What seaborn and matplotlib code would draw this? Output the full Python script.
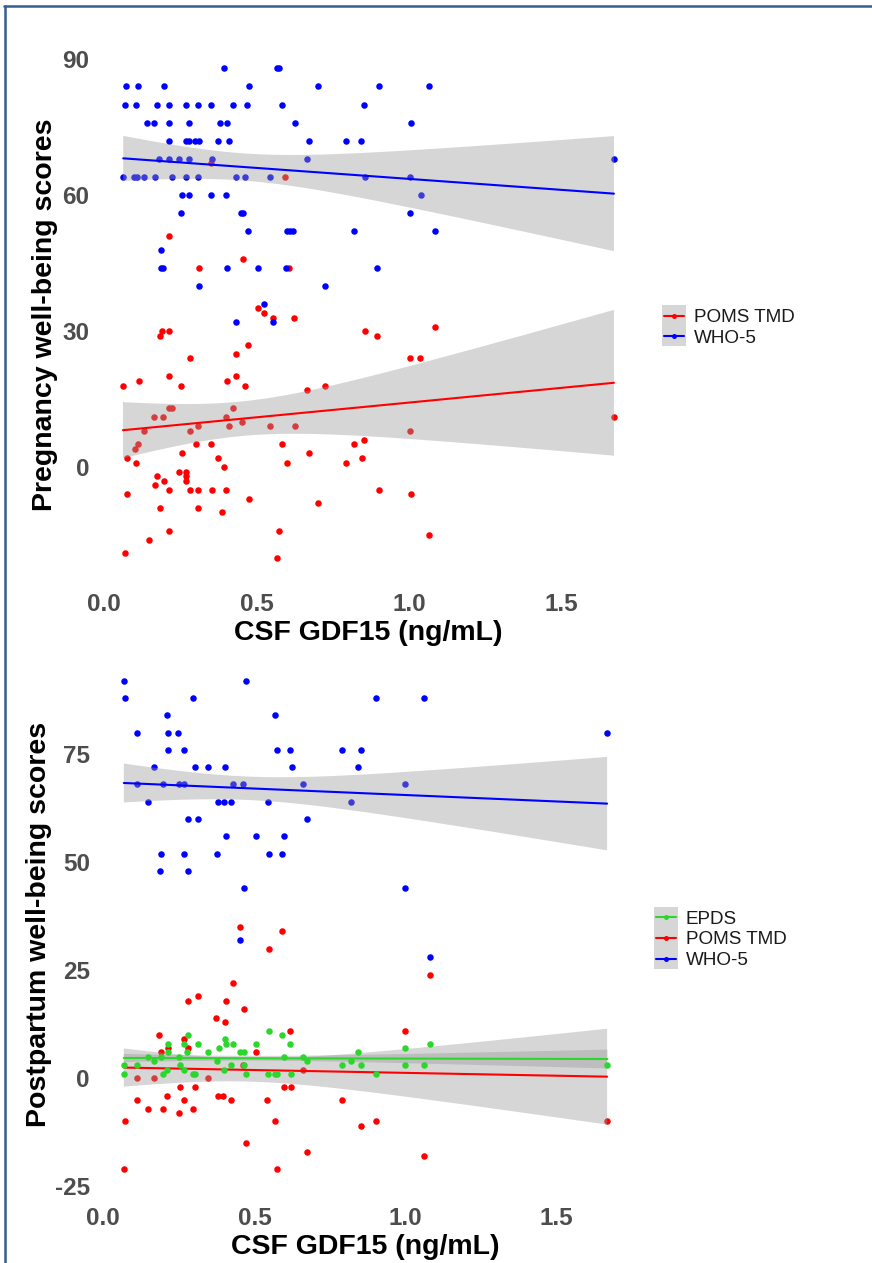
import matplotlib
matplotlib.use("Agg")
import matplotlib.pyplot as plt
import seaborn as sns
import numpy as np
import pandas as pd
from statistics import NormalDist
from matplotlib.legend_handler import HandlerBase
from matplotlib.patches import Rectangle
from matplotlib.lines import Line2D

# ---------------- data ----------------
# Pregnancy: WHO-5 (0-100) against CSF GDF15 (ng/mL)
preg_who5_x = [0.393, 0.567, 0.574,
               0.073, 0.112, 0.197, 0.474, 0.700, 0.901, 1.065,
               0.070, 0.105, 0.175, 0.214, 0.268, 0.308, 0.349, 0.424, 0.469, 0.583, 0.852,
               0.142, 0.164, 0.214, 0.279, 0.381, 0.402, 0.626, 1.007,
               0.214, 0.268, 0.279, 0.297, 0.311, 0.373, 0.408, 0.672, 0.793, 0.843,
               0.181, 0.214, 0.247, 0.279, 0.354, 0.665, 1.671,
               0.063, 0.099, 0.107, 0.131, 0.167, 0.222, 0.269, 0.307, 0.432, 0.463, 0.544, 0.855, 1.002,
               0.254, 0.279, 0.349, 0.400, 1.038,
               0.252, 0.449, 0.455, 1.002,
               0.471, 0.598, 0.609, 0.620, 0.820, 1.084,
               0.187,
               0.187, 0.193, 0.404, 0.505, 0.595, 0.894,
               0.311, 0.724,
               0.525,
               0.431, 0.553]
preg_who5_y = [88] * 3 + [84] * 7 + [80] * 11 + [76] * 8 + [72] * 10 + [68] * 7 + \
              [64] * 13 + [60] * 5 + [56] * 4 + [52] * 6 + [48] * 1 + [44] * 6 + \
              [40] * 2 + [36] * 1 + [32] * 2

# Pregnancy: POMS total mood disturbance
preg_poms_x = [0.214, 0.311, 0.455, 0.605, 0.349, 0.593, 0.503, 0.525, 0.553, 0.621,
               1.084, 0.189, 0.184, 0.214, 0.856, 0.894, 0.281, 0.431, 0.471, 1.003,
               1.037, 0.062, 0.114, 0.214, 0.253, 0.404, 0.431, 0.463, 0.665, 0.724,
               0.214, 0.222, 0.424, 0.163, 0.194, 0.401, 0.452, 0.131, 0.281, 0.308,
               0.408, 0.544, 0.626, 1.003, 0.102, 0.112, 0.300, 0.349, 0.583, 0.820,
               0.852, 0.074, 0.256, 0.672, 0.374, 0.844, 0.105, 0.598, 0.793, 0.393,
               0.175, 0.246, 0.268, 0.269, 0.268, 0.167, 0.198, 0.214, 0.281, 0.308,
               0.353, 0.401, 0.901, 0.074, 1.007, 0.474, 0.700, 0.183, 0.308, 0.386,
               0.214, 0.147, 0.575, 1.066, 0.070, 0.568, 1.671]
preg_poms_y = [51, 44, 46, 44, 67, 64, 35, 34, 33, 33,
               31, 30, 29, 30, 30, 29, 24, 25, 27, 24,
               24, 18, 19, 20, 18, 19, 20, 18, 17, 18,
               13, 13, 13, 11, 11, 11, 10, 8, 8, 9,
               9, 9, 9, 8, 4, 5, 5, 5, 5, 5,
               6, 2, 3, 3, 2, 2, 1, 1, 1, 0,
               -2, -1, -1, -2, -3, -4, -3, -5, -5, -5,
               -5, -5, -5, -6, -6, -7, -8, -9, -9, -10,
               -14, -16, -14, -15, -19, -20, 11]

# Postpartum: EPDS
pp_epds_x = [0.068, 0.068, 0.110, 0.147, 0.167, 0.190, 0.197, 0.210, 0.213, 0.214,
             0.249, 0.253, 0.268, 0.268, 0.281, 0.278, 0.296, 0.304, 0.312, 0.347,
             0.375, 0.382, 0.399, 0.403, 0.406, 0.421, 0.430, 0.452, 0.464, 0.464,
             0.473, 0.504, 0.544, 0.547, 0.567, 0.575, 0.591, 0.599, 0.619, 0.622,
             0.662, 0.674, 0.791, 0.818, 0.842, 0.853, 0.901, 0.999, 0.999, 1.062,
             1.082, 1.668]
pp_epds_y = [3, 1, 3, 5, 4, 5, 1, 2, 8, 6,
             5, 3, 8, 2, 10, 6, 1, 1, 8, 6,
             4, 7, 2, 9, 8, 3, 8, 6, 6, 3,
             1, 8, 1, 11, 1, 1, 10, 5, 8, 1,
             5, 4, 3, 4, 6, 3, 1, 7, 3, 3,
             8, 3]

# Postpartum: POMS total mood disturbance
pp_poms_x = [0.453, 0.591, 0.548, 1.082, 0.429, 0.281, 0.312, 0.406, 0.464, 0.374,
             0.403, 0.999, 0.619, 0.185, 0.268, 0.213, 0.281, 0.190, 0.504, 0.461,
             0.662, 0.110, 0.167, 0.346, 0.598, 0.622, 0.253, 0.304, 0.210, 0.380,
             0.397, 0.421, 0.791, 0.110, 0.268, 0.543, 0.147, 0.197, 0.296, 0.249,
             0.567, 0.072, 0.901, 0.853, 0.473, 0.673, 1.062, 0.068, 0.575, 1.667]
pp_poms_y = [35, 34, 30, 24, 22, 18, 19, 18, 16, 14,
             13, 11, 11, 10, 9, 7, 7, 6, 6, 3,
             2, 0, 0, 0, -2, -2, -2, -2, -4, -4,
             -4, -5, -5, -5, -5, -5, -7, -7, -7, -8,
             -10, -10, -10, -11, -15, -17, -18, -21, -21, -10]

# Postpartum: WHO-5
pp_who5_x = [0.068, 0.472,
             0.072, 0.296, 0.901, 1.062,
             0.210, 0.567,
             0.110, 0.215, 0.248, 1.667,
             0.214, 0.268, 0.575, 0.619, 0.791, 0.853,
             0.167, 0.304, 0.347, 0.403, 0.623, 0.843,
             0.111, 0.198, 0.251, 0.268, 0.430, 0.462, 0.662, 0.999,
             0.147, 0.379, 0.399, 0.421, 0.544, 0.818,
             0.280, 0.312, 0.674,
             0.406, 0.505, 0.599,
             0.191, 0.268, 0.375, 0.548, 0.591,
             0.187, 0.280,
             0.464, 0.999,
             0.453,
             1.082]
pp_who5_y = [92] * 2 + [88] * 4 + [84] * 2 + [80] * 4 + [76] * 6 + [72] * 6 + \
            [68] * 8 + [64] * 6 + [60] * 3 + [56] * 3 + [52] * 5 + [48] * 2 + \
            [44] * 2 + [32] * 1 + [28] * 1

x_ticks = [0.0, 0.5, 1.0, 1.5]
x_tick_labels = ["0.0", "0.5", "1.0", "1.5"]
preg_y_ticks = [0, 30, 60, 90]
pp_y_ticks = [-25, 0, 25, 50, 75]

x_title = "CSF GDF15 (ng/mL)"
preg_title = "Pregnancy well-being scores"
pp_title = "Postpartum well-being scores"

# confidence level of the fitted-line ribbons in each panel
preg_ci_level = 0.95
pp_ci_level = 0.83

# ---------------- style ----------------
sns.set_theme(style="white")
plt.rcParams["font.family"] = ["Liberation Sans", "DejaVu Sans"]

COLORS = {"EPDS": "#2DD62D", "POMS TMD": "#FF0000", "WHO-5": "#0000FF"}
BAND = (0.6, 0.6, 0.6, 0.4)
KEY_BG = "#D6D6D6"
TICK_COLOR = "#4D4D4D"

fig = plt.figure(figsize=(8.72, 12.63), dpi=100)
ax_top = fig.add_axes([0.113, 0.5376, 0.6187, 0.4263])
ax_bot = fig.add_axes([0.1143, 0.0551, 0.610, 0.4252])


def make_frame(xs, ys):
    return pd.DataFrame({"x": xs, "y": ys})


def t_quantile(p, df):
    # Cornish-Fisher expansion of Student's t around the normal quantile
    z = NormalDist().inv_cdf(p)
    return (z + (z ** 3 + z) / (4 * df)
            + (5 * z ** 5 + 16 * z ** 3 + 3 * z) / (96 * df ** 2))


def ols_band(df, level, npts=80):
    """Confidence ribbon of an ordinary least squares fit."""
    x = df["x"].to_numpy(float)
    y = df["y"].to_numpy(float)
    n = len(x)
    slope, icpt = np.polyfit(x, y, 1)
    resid = y - (icpt + slope * x)
    s = np.sqrt(np.sum(resid ** 2) / (n - 2))
    sxx = np.sum((x - x.mean()) ** 2)
    grid = np.linspace(x.min(), x.max(), npts)
    fit = icpt + slope * grid
    tq = t_quantile(0.5 + level / 2, n - 2)
    half = tq * s * np.sqrt(1 / n + (grid - x.mean()) ** 2 / sxx)
    return grid, fit - half, fit + half


def draw_panel(ax, series, level, yticks, ylim, xlim, ylabel, xpad, ypad,
               ylabelpad, top_points=()):
    # points under the ribbons (except the series listed in top_points)
    for name, df in series:
        z = 3 if name in top_points else 1
        sns.scatterplot(data=df, x="x", y="y", color=COLORS[name], s=22,
                        linewidth=0, ax=ax, legend=False, zorder=z)
    for name, df in series:
        grid, lo, hi = ols_band(df, level)
        ax.fill_between(grid, lo, hi, facecolor=BAND, edgecolor="none", zorder=1)
        sns.regplot(data=df, x="x", y="y", scatter=False, ci=None,
                    color=COLORS[name], truncate=True,
                    line_kws=dict(lw=1.5), ax=ax)
    ax.set_xlim(*xlim)
    ax.set_ylim(*ylim)
    ax.set_xticks(x_ticks)
    ax.set_xticklabels(x_tick_labels)
    ax.set_yticks(yticks)
    ax.set_yticklabels([str(t) for t in yticks])
    for s in ax.spines.values():
        s.set_visible(False)
    ax.tick_params(axis="x", length=0, pad=xpad, labelsize=17.5, labelcolor=TICK_COLOR)
    ax.tick_params(axis="y", length=0, pad=ypad, labelsize=17.5, labelcolor=TICK_COLOR)
    for lab in ax.get_xticklabels() + ax.get_yticklabels():
        lab.set_fontweight("bold")
    ax.set_xlabel(x_title, fontsize=20.5, fontweight="bold", color="black", labelpad=3)
    ax.set_ylabel(ylabel, fontsize=20.5, fontweight="bold", color="black",
                  labelpad=ylabelpad)
    ax.grid(False)
    ax.set_facecolor("white")


class SmoothKey(HandlerBase):
    """Legend key with a grey ribbon background, a line and a point."""

    def create_artists(self, legend, orig_handle, xdescent, ydescent,
                       width, height, fontsize, trans):
        x0, y0 = -xdescent, -ydescent
        bg = Rectangle((x0, y0), width, height, facecolor=KEY_BG,
                       edgecolor="none", transform=trans)
        yc = y0 + height / 2
        col = orig_handle.get_color()
        ln = Line2D([x0 + width * 0.08, x0 + width * 0.92], [yc, yc],
                    color=col, lw=1.5, transform=trans)
        dot = Line2D([x0 + width / 2], [yc], marker="o", markersize=3.6,
                     markeredgewidth=0, color=col, linestyle="none",
                     transform=trans)
        return [bg, ln, dot]


def add_legend(names, anchor):
    handles = [Line2D([], [], color=COLORS[n]) for n in names]
    leg = fig.legend(handles, names, loc="center left", bbox_to_anchor=anchor,
                     bbox_transform=fig.transFigure, frameon=False, fontsize=13.6,
                     handler_map={Line2D: SmoothKey()}, handlelength=1.29,
                     handleheight=1.29, labelspacing=0.0, handletextpad=0.4,
                     borderpad=0.0, borderaxespad=0.0)
    for t in leg.get_texts():
        t.set_color("#1A1A1A")


top_series = [("POMS TMD", make_frame(preg_poms_x, preg_poms_y)),
              ("WHO-5", make_frame(preg_who5_x, preg_who5_y))]
bot_series = [("EPDS", make_frame(pp_epds_x, pp_epds_y)),
              ("POMS TMD", make_frame(pp_poms_x, pp_poms_y)),
              ("WHO-5", make_frame(pp_who5_x, pp_who5_y))]

draw_panel(ax_top, top_series, preg_ci_level, preg_y_ticks, (-25.8, 93.0),
           (-0.018, 1.75), preg_title, xpad=6.5, ypad=6.6, ylabelpad=3)
draw_panel(ax_bot, bot_series, pp_ci_level, pp_y_ticks, (-26.65, 97.65),
           (-0.012, 1.748), pp_title, xpad=9.5, ypad=7.0, ylabelpad=2,
           top_points=("EPDS",))

add_legend(["POMS TMD", "WHO-5"], (661.7 / 872, 1 - 326 / 1263))
add_legend(["EPDS", "POMS TMD", "WHO-5"], (654 / 872, 1 - 938 / 1263))

# frame lines along the top and left edges of the figure
border = "#365F8F"
fig.add_artist(Line2D([4 / 872, 1.0], [1 - 6 / 1263, 1 - 6 / 1263],
                      transform=fig.transFigure, color=border, lw=1.8))
fig.add_artist(Line2D([5 / 872, 5 / 872], [0.0, 1 - 6 / 1263],
                      transform=fig.transFigure, color=border, lw=1.8))

fig.savefig("out.png", dpi=100)
